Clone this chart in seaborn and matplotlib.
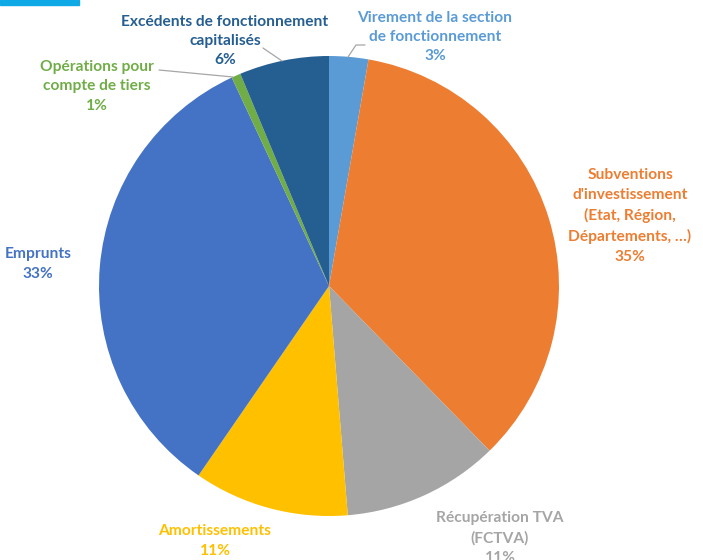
import matplotlib
matplotlib.use("Agg")
import matplotlib.pyplot as plt
import matplotlib.patches as mpatches
import seaborn as sns

# Data
labels = ["Virement de la section\nde fonctionnement\n3%",
          "Subventions\nd'investissement\n(Etat, Région,\nDépartements, …)\n35%",
          "Récupération TVA\n(FCTVA)\n11%",
          "Amortissements\n11%",
          "Emprunts\n33%",
          "Opérations pour\ncompte de tiers\n1%",
          "Excédents de fonctionnement\ncapitalisés\n6%"]
values = [2.75, 34.95, 11.0, 10.9, 33.45, 0.65, 6.3]
colors = ["#5B9BD5", "#ED7D31", "#A5A5A5", "#FFC000", "#4472C4", "#70AD47", "#255E91"]
# label centres (pixels from top-left)
label_pos = [(435, 37), (630, 216), (500, 538), (215, 541), (38, 264), (97, 86), (225, 41)]

sns.set_theme(style="white")
plt.rcParams['font.family'] = ['Lato', 'DejaVu Sans']

W, H = 703, 560
fig = plt.figure(figsize=(W / 100, H / 100), dpi=100)
ax = fig.add_axes([0, 0, 1, 1])

ax.pie(values, colors=colors, startangle=90, counterclock=False,
       center=(329, H - 286), radius=230, frame=True,
       wedgeprops=dict(linewidth=0))
ax.set_xlim(0, W)
ax.set_ylim(0, H)
ax.set_aspect('equal')
ax.axis('off')

for lab, (px, py), c in zip(labels, label_pos, colors):
    ax.text(px, H - py, lab, color=c, fontsize=11.2, fontweight='bold',
            ha='center', va='center', linespacing=1.5)

# leader lines
ax.plot([263, 282], [H - 48, H - 61], color="#A6A6A6", lw=0.9)
ax.plot([159, 233], [H - 70, H - 77], color="#A6A6A6", lw=0.9)
ax.plot([365, 356, 348], [H - 45, H - 45, H - 57], color="#A6A6A6", lw=0.9)

# top-left accent bar
fig.patches.append(mpatches.Rectangle((0, 1 - 5 / H), 79 / W, 5 / H,
                                      transform=fig.transFigure, color="#0FA9E6"))

fig.savefig("out.png", dpi=100)
